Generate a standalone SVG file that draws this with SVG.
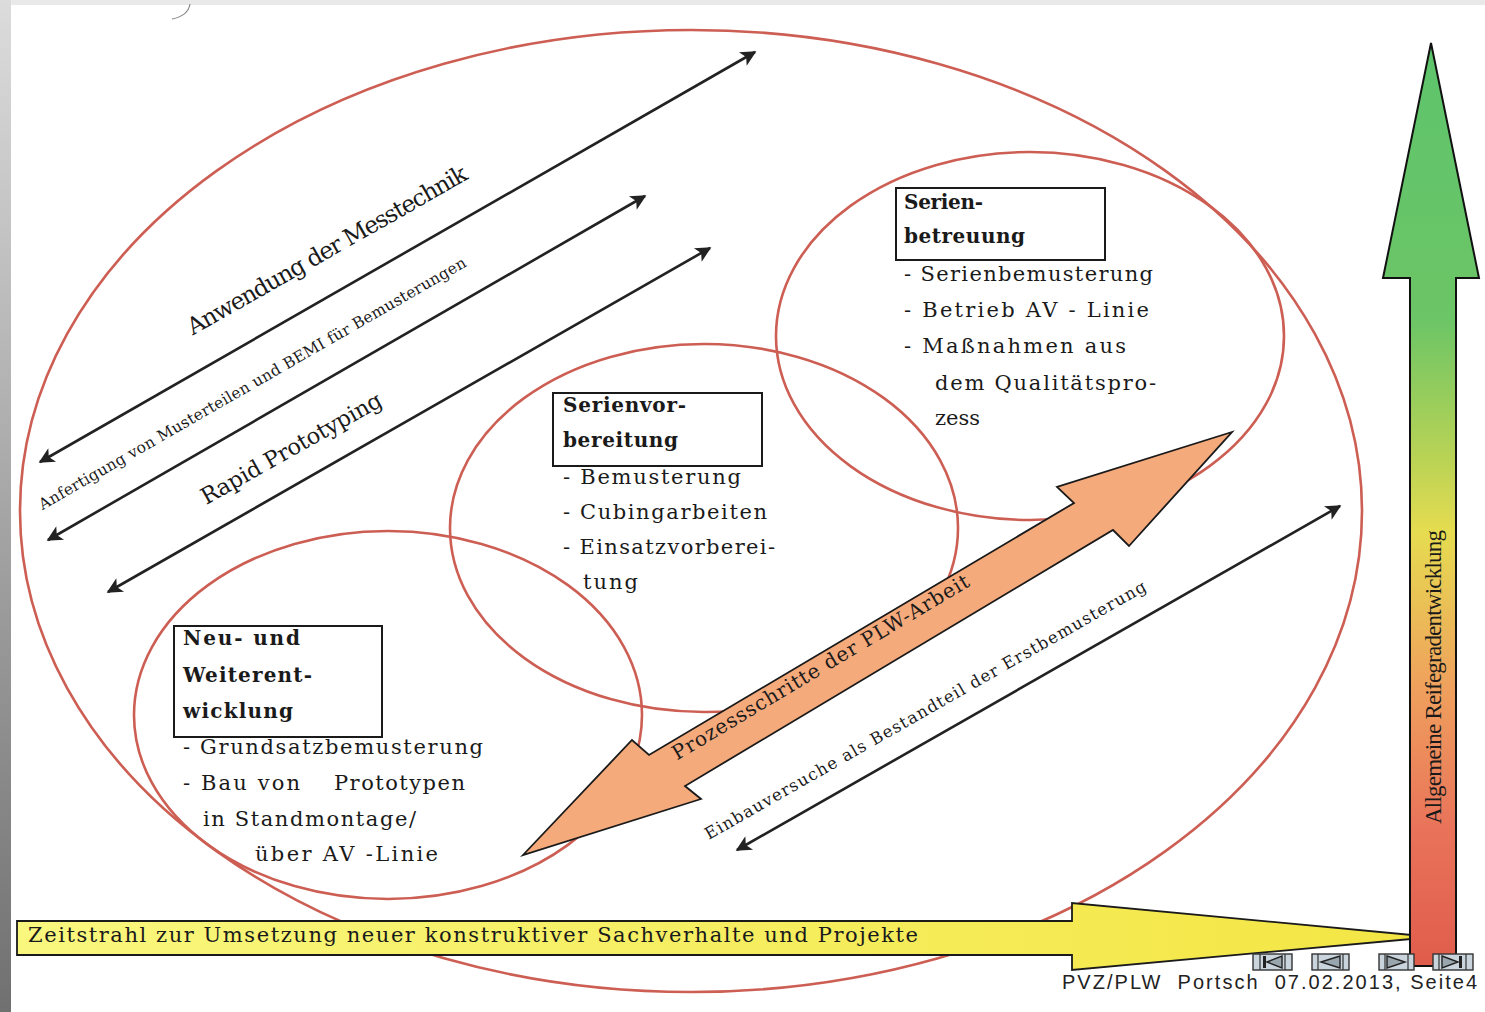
<svg xmlns="http://www.w3.org/2000/svg" width="1485" height="1012" viewBox="0 0 1485 1012">
<style>
.ring{fill:none;stroke:#CD5E53;stroke-width:2.6}
.box{fill:none;stroke:#1a1a1a;stroke-width:2}
.t{font-family:"DejaVu Serif","Liberation Serif",serif;font-size:21px;fill:#1a1a1a}
.h{font-weight:bold;font-size:20px}
.d{fill:none;stroke:#222;stroke-width:2.6;marker-start:url(#ah);marker-end:url(#ah)}
.rt{font-family:"DejaVu Serif","Liberation Serif",serif;fill:#1a1a1a;text-anchor:middle}
.btn{fill:#C9D4DC;stroke:#333;stroke-width:1.4}
.ic{fill:#9AA6AE;stroke:#222;stroke-width:1.4}
</style>
<defs>
<marker id="ah" viewBox="0 0 10 10" refX="9" refY="5" markerWidth="7" markerHeight="6" orient="auto-start-reverse">
<path d="M0,0 L10,5 L0,10 L2.5,5 Z" fill="#222"/>
</marker>
<linearGradient id="lg" x1="0" y1="0" x2="0" y2="1">
<stop offset="0" stop-color="#dcdcdc"/>
<stop offset="1" stop-color="#707070"/>
</linearGradient>
<linearGradient id="vg" gradientUnits="userSpaceOnUse" x1="0" y1="43" x2="0" y2="966">
<stop offset="0" stop-color="#5EC46C"/>
<stop offset="0.3" stop-color="#6CC566"/>
<stop offset="0.45" stop-color="#B9D355"/>
<stop offset="0.53" stop-color="#E6DC50"/>
<stop offset="0.7" stop-color="#EFA05D"/>
<stop offset="0.85" stop-color="#E9735A"/>
<stop offset="1" stop-color="#E05C4C"/>
</linearGradient>
<linearGradient id="yg" x1="0" y1="0" x2="1" y2="0">
<stop offset="0" stop-color="#F9F77E"/>
<stop offset="1" stop-color="#F3E543"/>
</linearGradient>
</defs>

<rect x="0" y="0" width="1485" height="1012" fill="#e9e9e9"/>
<rect x="0" y="0" width="11" height="1012" fill="url(#lg)"/>
<rect x="11" y="5" width="1474" height="1007" fill="#ffffff"/>
<path d="M190 4 Q188 16 172 19" fill="none" stroke="#888" stroke-width="1.2"/>

<g id="outer">
<ellipse class="ring" cx="691" cy="511" rx="671" ry="481"/>
</g>
<g id="serienbetreuung">
<ellipse class="ring" cx="1030" cy="336" rx="254" ry="184"/>
</g>
<g id="serienvorbereitung">
<ellipse class="ring" cx="704" cy="528" rx="254" ry="184"/>
</g>
<g id="neuentwicklung">
<ellipse class="ring" cx="388" cy="715" rx="254" ry="184"/>
</g>

<g id="connectors">
<line class="d" x1="40" y1="462" x2="755" y2="52"/>
<line class="d" x1="48" y1="540" x2="645" y2="196"/>
<line class="d" x1="108" y1="592" x2="710" y2="248"/>
<line class="d" x1="737" y1="850" x2="1340" y2="506"/>
<polygon points="523,855 632,740 649,755 1074,503 1057,487 1232,432 1129,546 1113,530 685,786 701,799" fill="#F5AA7C" stroke="#1a1a1a" stroke-width="1.8" stroke-linejoin="miter"/>
<text class="rt" font-size="23.5" transform="translate(331,257) rotate(-29.6)" textLength="318" lengthAdjust="spacing">Anwendung der Messtechnik</text>
<text class="rt" font-size="15.5" transform="translate(255,388) rotate(-29.9)" textLength="490" lengthAdjust="spacing">Anfertigung von Musterteilen und BEMI für Bemusterungen</text>
<text class="rt" font-size="22.5" transform="translate(295,455) rotate(-29.4)" textLength="204" lengthAdjust="spacing">Rapid Prototyping</text>
<text class="rt" font-size="20" transform="translate(824,673) rotate(-30.8)" textLength="342" lengthAdjust="spacing">Prozessschritte der PLW-Arbeit</text>
<text class="rt" font-size="16.5" transform="translate(928,715) rotate(-29.7)" textLength="505" lengthAdjust="spacing">Einbauversuche als Bestandteil der Erstbemusterung</text>
</g>

<g id="serienbetreuung-text">
<rect class="box" x="896" y="188" width="209" height="72"/>
<text class="t h" x="904" y="209" textLength="79" lengthAdjust="spacing">Serien-</text>
<text class="t h" x="904" y="243" textLength="121" lengthAdjust="spacing">betreuung</text>
<text class="t" x="904" y="281" textLength="249" lengthAdjust="spacing">- Serienbemusterung</text>
<text class="t" x="904" y="317" textLength="245" lengthAdjust="spacing">- Betrieb AV - Linie</text>
<text class="t" x="904" y="353" textLength="222" lengthAdjust="spacing">- Maßnahmen aus</text>
<text class="t" x="935" y="390" textLength="221" lengthAdjust="spacing">dem Qualitätspro-</text>
<text class="t" x="935" y="425" textLength="45" lengthAdjust="spacing">zess</text>
</g>

<g id="serienvorbereitung-text">
<rect class="box" x="553" y="393" width="209" height="73"/>
<text class="t h" x="563" y="412" textLength="123" lengthAdjust="spacing">Serienvor-</text>
<text class="t h" x="563" y="447" textLength="115" lengthAdjust="spacing">bereitung</text>
<text class="t" x="563" y="484" textLength="178" lengthAdjust="spacing">- Bemusterung</text>
<text class="t" x="563" y="519" textLength="204" lengthAdjust="spacing">- Cubingarbeiten</text>
<text class="t" x="563" y="554" textLength="212" lengthAdjust="spacing">- Einsatzvorberei-</text>
<text class="t" x="583" y="589" textLength="55" lengthAdjust="spacing">tung</text>
</g>

<g id="neuentwicklung-text">
<rect class="box" x="174" y="626" width="208" height="111"/>
<text class="t h" x="183" y="645" textLength="117" lengthAdjust="spacing">Neu- und</text>
<text class="t h" x="183" y="682" textLength="129" lengthAdjust="spacing">Weiterent-</text>
<text class="t h" x="183" y="718" textLength="110" lengthAdjust="spacing">wicklung</text>
<text class="t" x="183" y="754" textLength="300" lengthAdjust="spacing">- Grundsatzbemusterung</text>
<text class="t" x="183" y="790" textLength="117" lengthAdjust="spacing">- Bau von</text>
<text class="t" x="334" y="790" textLength="131" lengthAdjust="spacing">Prototypen</text>
<text class="t" x="203" y="826" textLength="213" lengthAdjust="spacing">in Standmontage/</text>
<text class="t" x="255" y="861" textLength="183" lengthAdjust="spacing">über AV -Linie</text>
</g>

<g id="timeline">
<polygon points="17,921 1072,921 1072,903 1433,937 1072,970 1072,955 17,955" fill="url(#yg)" stroke="#1a1a1a" stroke-width="1.8"/>
<text class="t" x="28" y="942" font-size="20.5" textLength="890" lengthAdjust="spacing">Zeitstrahl zur Umsetzung neuer konstruktiver Sachverhalte und Projekte</text>
</g>

<g id="maturity">
<polygon points="1431,43 1479,278 1456,278 1456,966 1410,966 1410,278 1383,278" fill="url(#vg)" stroke="#111" stroke-width="2"/>
<text font-family="'Liberation Serif',serif" fill="#1a1a1a" text-anchor="middle" font-size="23" transform="translate(1441,677) rotate(-90)" textLength="294" lengthAdjust="spacing">Allgemeine Reifegradentwicklung</text>
</g>

<g id="nav">
<rect class="btn" x="1253" y="954" width="39" height="16"/>
<line x1="1260" y1="954" x2="1260" y2="970" stroke="#333" stroke-width="1.2"/>
<line x1="1285" y1="954" x2="1285" y2="970" stroke="#333" stroke-width="1.2"/>
<rect x="1263" y="956" width="3" height="12" fill="#222"/>
<polygon class="ic" points="1267,962 1282,956 1282,968"/>
<rect class="btn" x="1312" y="954" width="37" height="16"/>
<line x1="1318" y1="954" x2="1318" y2="970" stroke="#333" stroke-width="1.2"/>
<line x1="1343" y1="954" x2="1343" y2="970" stroke="#333" stroke-width="1.2"/>
<polygon class="ic" points="1321,962 1340,956 1340,968"/>
<rect class="btn" x="1379" y="954" width="35" height="16"/>
<line x1="1385" y1="954" x2="1385" y2="970" stroke="#333" stroke-width="1.2"/>
<line x1="1408" y1="954" x2="1408" y2="970" stroke="#333" stroke-width="1.2"/>
<polygon class="ic" points="1387,956 1405,962 1387,968"/>
<rect class="btn" x="1433" y="954" width="40" height="16"/>
<line x1="1439" y1="954" x2="1439" y2="970" stroke="#333" stroke-width="1.2"/>
<line x1="1466" y1="954" x2="1466" y2="970" stroke="#333" stroke-width="1.2"/>
<polygon class="ic" points="1442,956 1458,962 1442,968"/>
<rect x="1459" y="956" width="3" height="12" fill="#222"/>
</g>

<g id="footer">
<text x="1062" y="989" font-family="'Liberation Sans',Arial,sans-serif" font-size="20" fill="#222" style="white-space:pre" textLength="415" lengthAdjust="spacing">PVZ/PLW  Portsch  07.02.2013, Seite4</text>
</g>
</svg>
